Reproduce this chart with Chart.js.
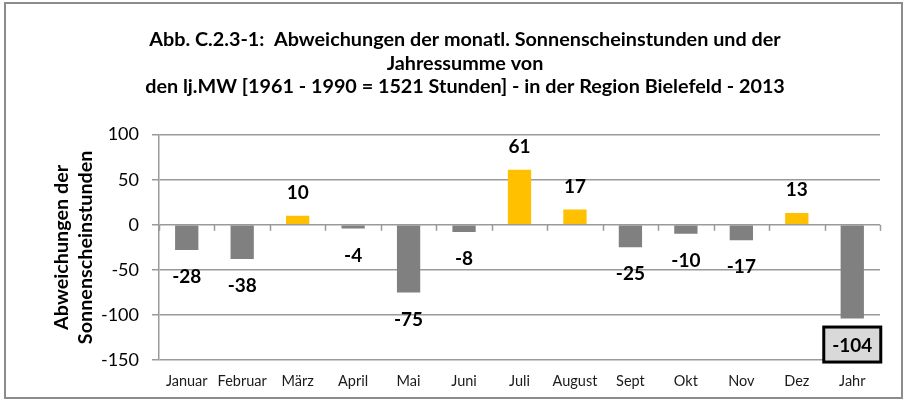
<!DOCTYPE html>
<html>
<head>
<meta charset="utf-8">
<script src="https://cdn.jsdelivr.net/npm/chart.js@4.4.1/dist/chart.umd.min.js"></script>
<style>
  html, body { margin: 0; padding: 0; background: #fff; }
  .wrap { position: absolute; left: 4px; top: 2px; width: 899px; height: 397px; border: 2px solid #8c8c8c; box-sizing: border-box; }
  canvas { position: absolute; left: 0; top: 0; }
</style>
</head>
<body>
<canvas id="chart" width="909" height="405"></canvas>
<div class="wrap"></div>
<script>
// Daten
const monate = ['Januar', 'Februar', 'März', 'April', 'Mai', 'Juni', 'Juli', 'August', 'Sept', 'Okt', 'Nov', 'Dez', 'Jahr'];
const abweichung = [-28, -38, 10, -4, -75, -8, 61, 17, -25, -10, -17, 13, -104];
const yTicks = [-150, -100, -50, 0, 50, 100];

const FONT = "Lato, 'Liberation Sans', sans-serif";
const GRAU = '#808080';
const GOLD = '#ffc000';
const LINIE = '#9a9a9a';

const farben = abweichung.map(v => v < 0 ? GRAU : GOLD);

// Werte-Beschriftung + Striche an der Null-Linie
const labelPlugin = {
    id: 'labelPlugin',
    afterDatasetsDraw(chart) {
        const ctx = chart.ctx;
        const meta = chart.getDatasetMeta(0);
        const x = chart.scales.x;
        const y = chart.scales.y;
        const y0 = y.getPixelForValue(0);

        // kleine Striche an der Null-Linie
        ctx.save();
        ctx.strokeStyle = LINIE;
        ctx.lineWidth = 1.5;
        for (let i = 0; i <= monate.length; i++) {
            const px = Math.round(x.getPixelForValue(i - 0.5)) + 0.5;
            ctx.beginPath();
            ctx.moveTo(px, y0);
            ctx.lineTo(px, y0 + 6);
            ctx.stroke();
        }
        ctx.restore();

        ctx.save();
        ctx.font = 'bold 19px ' + FONT;
        ctx.textAlign = 'center';
        ctx.textBaseline = 'middle';
        meta.data.forEach((bar, i) => {
            const v = abweichung[i];
            const ly = v < 0 ? bar.y + 26 : bar.y - 24;
            if (i === monate.length - 1) {
                // Jahreswert im Kasten
                const w = 57, h = 35;
                ctx.fillStyle = '#d9d9d9';
                ctx.fillRect(bar.x - w / 2, ly - h / 2, w, h);
                ctx.lineWidth = 3;
                ctx.strokeStyle = '#000';
                ctx.strokeRect(bar.x - w / 2, ly - h / 2, w, h);
            }
            ctx.fillStyle = '#000';
            ctx.fillText(String(v), bar.x, ly + 1);
        });
        ctx.restore();
    }
};

const ctx = document.getElementById('chart').getContext('2d');
new Chart(ctx, {
    type: 'bar',
    data: {
        labels: monate,
        datasets: [{
            data: abweichung,
            backgroundColor: farben,
            borderWidth: 0,
            barPercentage: 0.42,
            categoryPercentage: 1.0
        }]
    },
    options: {
        responsive: false,
        animation: false,
        layout: { padding: { top: 28, left: 50, right: 29, bottom: 0 } },
        plugins: {
            legend: { display: false },
            tooltip: { enabled: false },
            title: {
                display: true,
                text: [
                    'Abb. C.2.3-1:  Abweichungen der monatl. Sonnenscheinstunden und der',
                    'Jahressumme von',
                    'den lj.MW [1961 - 1990 = 1521 Stunden] - in der Region Bielefeld - 2013'
                ],
                color: '#000',
                font: { family: FONT, size: 19.8, weight: 'bold', lineHeight: 1.19 },
                padding: { top: 0, bottom: 36 }
            }
        },
        scales: {
            x: {
                grid: { display: false, drawTicks: false },
                border: { display: false },
                ticks: { color: '#1a1a1a', font: { family: FONT, size: 14.5 }, padding: 13 },
                afterFit(scale) { scale.height = 45; }
            },
            y: {
                min: -150,
                max: 100,
                afterBuildTicks(scale) { scale.ticks = yTicks.map(v => ({ value: v })); },
                grid: { color: LINIE, lineWidth: 1.5, tickLength: 7 },
                border: { color: LINIE, width: 1.5 },
                ticks: { color: '#000', font: { family: FONT, size: 18 }, padding: 13 },
                title: {
                    display: true,
                    text: ['Abweichungen der', 'Sonnenscheinstunden'],
                    color: '#000',
                    font: { family: FONT, size: 19.8, weight: 'bold', lineHeight: 1.19 },
                    padding: { top: 0, bottom: 0 }
                },
                afterFit(scale) { scale.width = 109; }
            }
        }
    },
    plugins: [labelPlugin]
});
</script>
</body>
</html>
